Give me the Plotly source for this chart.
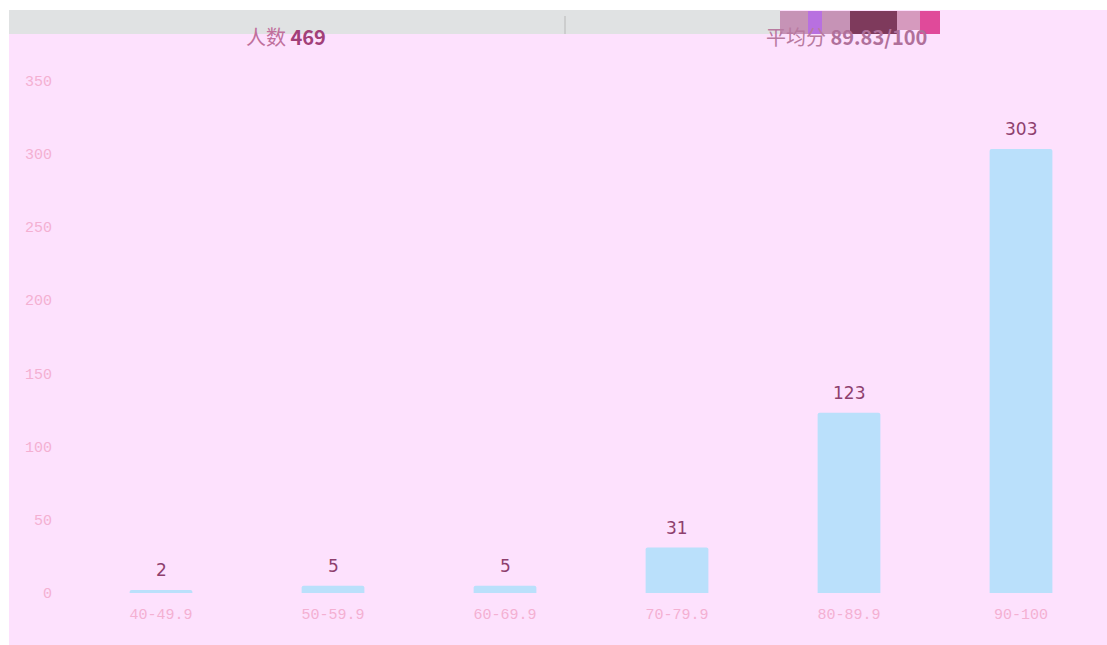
import plotly.graph_objects as go

categories = ["40-49.9", "50-59.9", "60-69.9", "70-79.9", "80-89.9", "90-100"]
counts = [2, 5, 5, 31, 123, 303]
y_ticks = [0, 50, 100, 150, 200, 250, 300, 350]
total_label = "469"
avg_label = "89.83/100"

W, H = 1107, 645
L, R, T, B = 75, 0, 70, 52
pw, ph = W - L - R, H - T - B

def px(sx):
    return (sx - L) / pw

def py(sy):
    return (H - B - sy) / ph

PINK = "#FDE1FD"
fig = go.Figure()
fig.add_trace(go.Bar(
    x=categories, y=counts, width=0.365,
    marker=dict(color="#BAE0FB", line=dict(width=0), cornerradius=2),
    hoverinfo="skip",
))
for c, v in zip(categories, counts):
    fig.add_annotation(x=c, y=v, text=str(v), showarrow=False, yshift=20,
                       font=dict(size=17, color="#8E3F6E", family="DejaVu Sans"))

shapes = [
    dict(type="rect", xref="paper", yref="paper", x0=px(0), x1=px(9), y0=py(H), y1=py(0),
         fillcolor="white", line=dict(width=0), layer="below"),
    dict(type="rect", xref="paper", yref="paper", x0=px(0), x1=px(W), y0=py(10), y1=py(0),
         fillcolor="white", line=dict(width=0), layer="below"),
    dict(type="rect", xref="paper", yref="paper", x0=px(9), x1=px(780), y0=py(34), y1=py(10),
         fillcolor="#E0E2E3", line=dict(width=0), layer="below"),
    dict(type="line", xref="paper", yref="paper", x0=px(565), x1=px(565), y0=py(34), y1=py(16),
         line=dict(color="#B8B8B8", width=1)),
    dict(type="rect", xref="paper", yref="paper", x0=px(780), x1=px(850), y0=py(34), y1=py(11),
         fillcolor="#C693B6", line=dict(width=0), layer="below"),
    dict(type="rect", xref="paper", yref="paper", x0=px(808), x1=px(822), y0=py(34), y1=py(11),
         fillcolor="#B870E0", line=dict(width=0), layer="below"),
    dict(type="rect", xref="paper", yref="paper", x0=px(850), x1=px(897), y0=py(34), y1=py(11),
         fillcolor="#7E3A5C", line=dict(width=0), layer="below"),
    dict(type="rect", xref="paper", yref="paper", x0=px(897), x1=px(920), y0=py(30), y1=py(11),
         fillcolor="#D69ABE", line=dict(width=0), layer="below"),
    dict(type="rect", xref="paper", yref="paper", x0=px(920), x1=px(940), y0=py(34), y1=py(11),
         fillcolor="#E04A9A", line=dict(width=0), layer="below"),
]

fig.add_annotation(xref="paper", yref="paper", x=px(286), y=py(37), showarrow=False,
                   xanchor="center", yanchor="middle",
                   text="<span style='color:#C0709C'>人数</span> <b>" + total_label + "</b>",
                   font=dict(size=20, color="#A23F78", family="Noto Sans CJK SC"))
fig.add_annotation(xref="paper", yref="paper", x=px(846), y=py(37), showarrow=False,
                   xanchor="center", yanchor="middle",
                   text="<span style='color:#B87AA0'>平均分</span> <b>" + avg_label + "</b>",
                   font=dict(size=20, color="#B0709A", family="Noto Sans CJK SC"))

fig.update_layout(
    width=W, height=H,
    margin=dict(l=L, r=R, t=T, b=B, pad=0),
    paper_bgcolor=PINK, plot_bgcolor=PINK,
    showlegend=False, shapes=shapes,
    xaxis=dict(showgrid=False, zeroline=False, showline=False, ticks="",
               tickfont=dict(size=15, color="#F4B0D2", family="Liberation Mono"),
               ticklabelstandoff=10),
    yaxis=dict(range=[0, 357], tickvals=y_ticks, showgrid=False, zeroline=False,
               showline=False, ticks="",
               tickfont=dict(size=15, color="#F4B0D2", family="Liberation Mono"),
               ticklabelstandoff=22),
    bargap=0.6,
)

fig.write_html(
    "out.html",
    config={"displayModeBar": False},
    post_script="document.body.style.margin='0';document.body.style.overflow='hidden';",
)
